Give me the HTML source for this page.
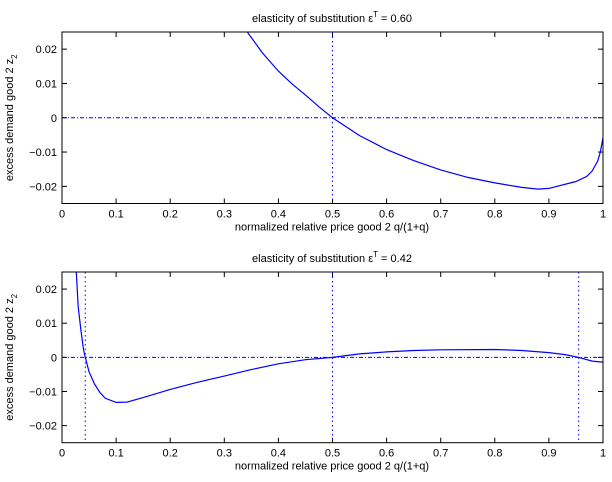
<!DOCTYPE html>
<html><head><meta charset="utf-8"><style>
body{margin:0;background:#fff}
svg{font-family:"Liberation Sans",sans-serif;font-size:11px}
</style></head><body>
<svg width="612" height="477" id="fig"></svg>
<script>
const xTicks=[0,0.1,0.2,0.3,0.4,0.5,0.6,0.7,0.8,0.9,1];
const xTickLabels=["0","0.1","0.2","0.3","0.4","0.5","0.6","0.7","0.8","0.9","1"];
const yTicks=[-0.02,-0.01,0,0.01,0.02];
const yTickLabels=["\u22120.02","\u22120.01","0","0.01","0.02"];
const topX=[0.3425,0.37,0.4,0.425,0.45,0.475,0.5,0.55,0.6,0.65,0.7,0.75,0.8,0.85,0.88,0.9,0.95,0.97,0.98,0.99,0.995,1.0];
const topY=[0.025,0.0190,0.0136,0.0099,0.0066,0.0032,0,-0.0052,-0.0093,-0.0125,-0.0152,-0.0174,-0.019,-0.0203,-0.0208,-0.0206,-0.0186,-0.0171,-0.0155,-0.0127,-0.0100,-0.0058];
const botX=[0.0265,0.03,0.035,0.04,0.043,0.05,0.06,0.07,0.08,0.1,0.12,0.15,0.2,0.25,0.3,0.35,0.4,0.45,0.5,0.55,0.6,0.65,0.7,0.8,0.85,0.9,0.93,0.955,0.98,1.0];
const botY=[0.025,0.0148,0.008,0.0021,0,-0.0042,-0.0078,-0.0103,-0.012,-0.0132,-0.0131,-0.0118,-0.0094,-0.0073,-0.0055,-0.0036,-0.0019,-0.0007,0,0.0010,0.0016,0.002,0.0022,0.0023,0.0020,0.0014,0.0008,0,-0.0011,-0.0014];
const topVLines=[0.5];
const botVLines=[0.043,0.5,0.955];
const titles=["0.60","0.42"];

const NS="http://www.w3.org/2000/svg";
const svg=document.getElementById('fig');
function mk(t,a,p){const e=document.createElementNS(NS,t);for(const k in a)e.setAttribute(k,a[k]);(p||svg).appendChild(e);return e;}
const L=62,R=603;
function drawPanel(top,bottom,xs,ys,vl,title,name){
  const g=mk('g',{});
  
  
  const sx=v=>L+v*(R-L);
  const sy=v=>top+(0.025-v)/0.05*(bottom-top);
  xTicks.forEach((t,i)=>{
    mk('line',{x1:sx(t),x2:sx(t),y1:bottom,y2:bottom-5,stroke:'#000'},g);
    mk('line',{x1:sx(t),x2:sx(t),y1:top,y2:top+5,stroke:'#000'},g);
    const tx=mk('text',{x:sx(t),y:bottom+14,'text-anchor':'middle'},g);tx.textContent=xTickLabels[i];
    
    
  });
  yTicks.forEach((t,i)=>{
    mk('line',{x1:L,x2:L+5,y1:sy(t),y2:sy(t),stroke:'#000'},g);
    mk('line',{x1:R,x2:R-5,y1:sy(t),y2:sy(t),stroke:'#000'},g);
    const tx=mk('text',{x:L-5,y:sy(t)+4,'text-anchor':'end'},g);tx.textContent=yTickLabels[i];
    
    
  });
  const z=mk('line',{x1:L,x2:R,y1:sy(0),y2:sy(0),stroke:'#00f','stroke-dasharray':'4,2,1,2'},g);
  
  
  vl.forEach(v=>{
    const l=mk('line',{x1:sx(v),x2:sx(v),y1:top,y2:bottom,stroke:'#00f','stroke-dasharray':'1.5,3'},g);
    
    
  });
  const cp=mk('clipPath',{id:'c'+name},g);mk('rect',{x:L,y:top,width:R-L,height:bottom-top},cp);
  const pts=xs.map((x,i)=>sx(x).toFixed(1)+','+sy(ys[i]).toFixed(1)).join(' ');
  const pl=mk('polyline',{points:pts,fill:'none',stroke:'#00f','stroke-width':1.2,'clip-path':'url(#c'+name+')'},g);
  
  
  mk('rect',{x:L,y:top,width:R-L,height:bottom-top,fill:'none',stroke:'#000'},g);
  const t=mk('text',{x:332,y:top-10,'text-anchor':'middle'},g);
  t.innerHTML='elasticity of substitution \u03B5<tspan dy="-5" font-size="8">T</tspan><tspan dy="5"> = '+title+'</tspan>';
  
  
  const xl=mk('text',{x:332,y:bottom+27,'text-anchor':'middle'},g);xl.textContent='normalized relative price good 2 q/(1+q)';
  
  
  const cy=(top+bottom)/2;
  const yl=mk('text',{x:0,y:0,'text-anchor':'middle',transform:'translate(13,'+cy+') rotate(-90)'},g);
  yl.innerHTML='excess demand good 2 z<tspan dy="4" font-size="8">2</tspan>';
  
  
}
drawPanel(32,203.5,topX,topY,topVLines,titles[0],'top-panel');
drawPanel(272,442.7,botX,botY,botVLines,titles[1],'bottom-panel');
</script>
</body></html>
